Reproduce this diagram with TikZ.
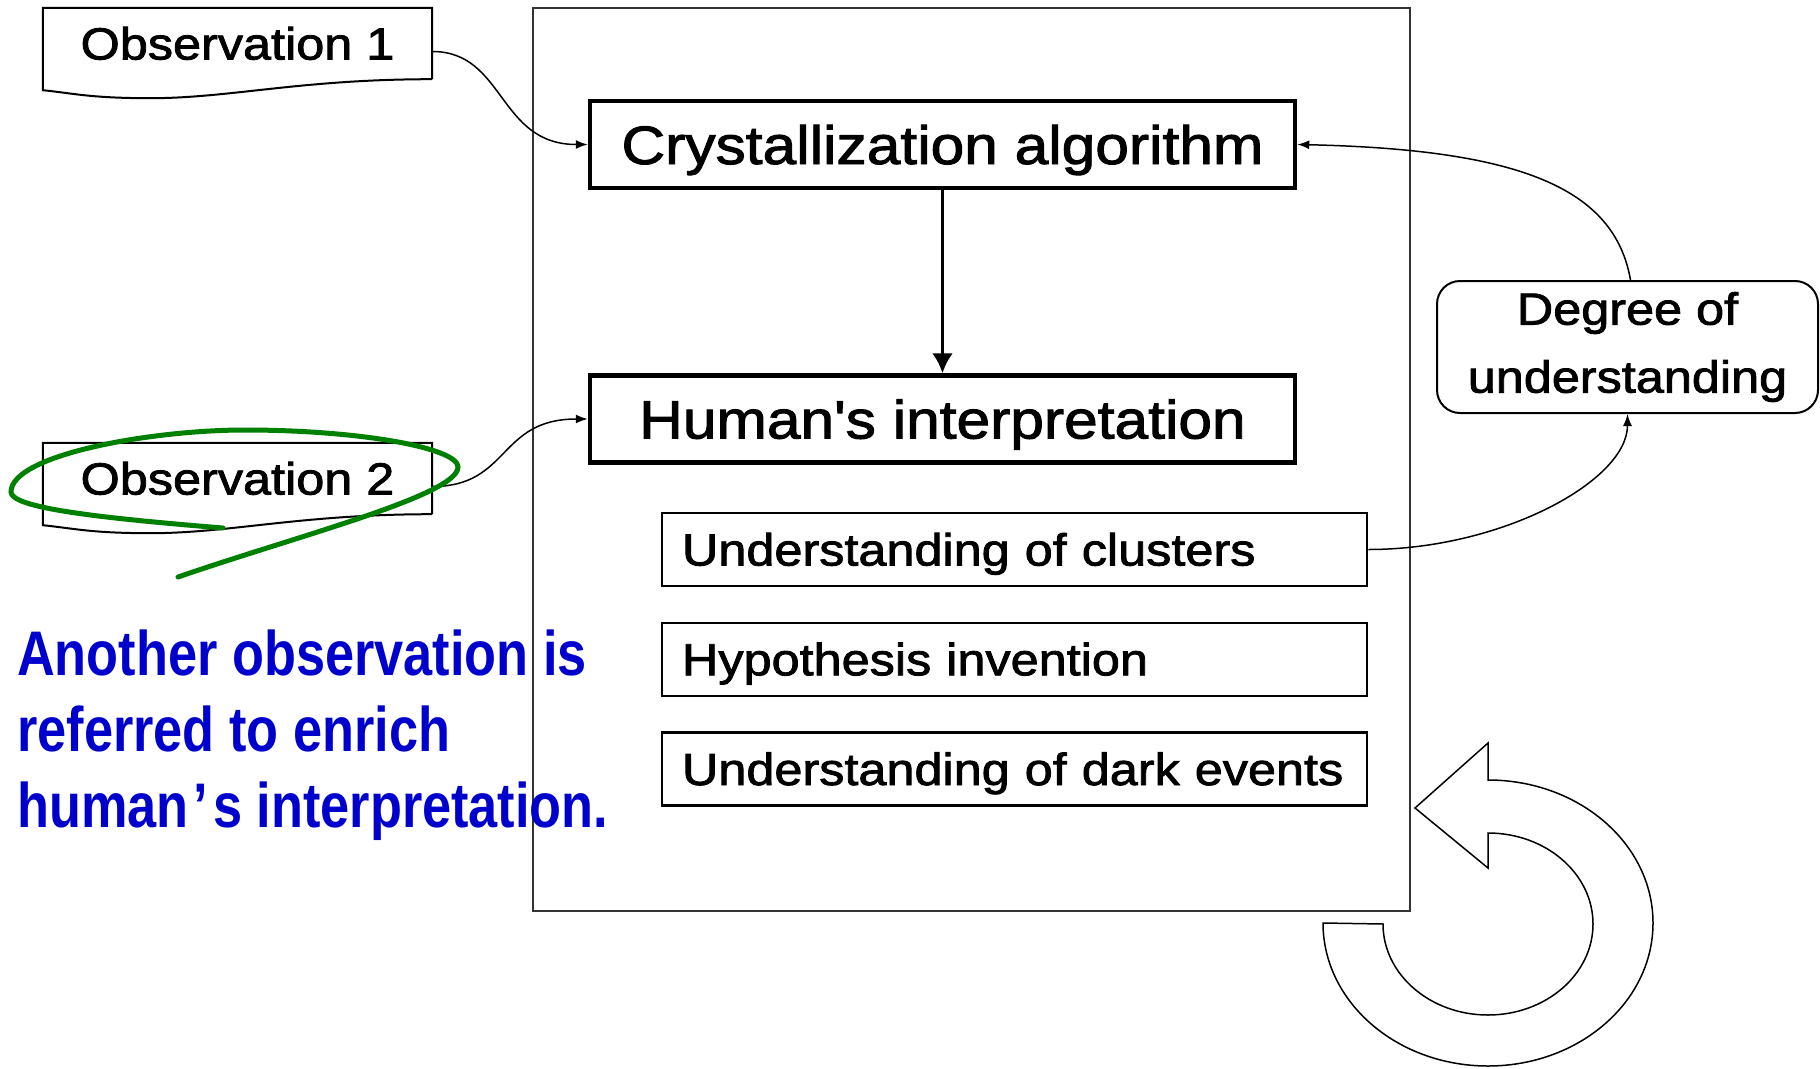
\documentclass[tikz,border=0pt]{standalone}
\usepackage{fontspec}
\setmainfont{Liberation Sans}
\newfontfamily\boxfont[FakeStretch=1.12,FakeBold=1.8]{Liberation Sans}
\newfontfamily\notefont[FakeStretch=0.83]{Liberation Sans}
\usepackage{xcolor}
\usepackage{tikz}
\usetikzlibrary{positioning}
\usetikzlibrary{arrows.meta}
\definecolor{noteblue}{RGB}{0,0,205}
\definecolor{markgreen}{RGB}{0,128,0}

\begin{document}
\begin{tikzpicture}
    [%%%%%%%%%%%%%%%%%%%%%%%%%%%%%%
        x=1pt, y=-1pt,
        bigbox/.style={rectangle,draw=black,line width=4.5pt,minimum width=705pt,minimum height=87pt,inner sep=0pt,
            font=\boxfont\fontsize{54}{60}\selectfont,text height=39pt,text depth=0pt},
        smallbox/.style={rectangle,draw=black,line width=2.5pt,text width=665pt,minimum height=73pt,inner xsep=20pt,inner ysep=0pt,
            align=left,font=\boxfont\fontsize{45}{50}\selectfont,text height=32pt,text depth=0pt},
        obsbox/.style={rectangle,minimum width=389pt,minimum height=71pt,inner sep=0pt,
            font=\boxfont\fontsize{45}{50}\selectfont,text height=32pt,text depth=0pt},
        degbox/.style={rectangle,draw=black,line width=2pt,rounded corners=23pt,minimum width=381pt,minimum height=132pt,
            inner sep=0pt,align=center,font=\boxfont\fontsize{45}{68}\selectfont},
        link/.style={line width=1.5pt,-{Latex[length=12pt,width=9pt]}},
        note/.style={anchor=north west,inner sep=0pt,align=left,text=noteblue,font=\notefont\bfseries\fontsize{63}{76}\selectfont}
    ]%%%%%%%%%%%%%%%%%%%%%%%%%%%%%%

\useasboundingbox (0,0) rectangle (1820,1068);

% frame round the steps
\draw[line width=2.2pt,black!80] (533,8) rectangle (1410,911);

\node[bigbox] (crys) at (942.5,144.5) {Crystallization algorithm};
\node[bigbox] (human) at (942.5,419) {Human's interpretation};

\foreach \name/\txt [count=\i] in {clust/Understanding of clusters,hypo/Hypothesis invention,dark/Understanding of dark events}
{
    \pgfmathsetmacro{\yy}{549.5+109.75*(\i-1)}
    \node[smallbox] (\name) at (1014.5,\yy) {\txt};
}

\node[degbox] (deg) at (1627.5,347) {Degree of\\understanding};

% observations, box with a wavy bottom
\node[obsbox] (obs1) at (237.5,43.5) {Observation 1};
\node[obsbox] (obs2) at (237.5,478.5) {Observation 2};
\foreach \o in {obs1,obs2}{
    \draw[line width=2pt] (\o.south east) -- (\o.north east) -- (\o.north west) -- ([shift={(0,11)}]\o.south west)
        .. controls +(30,3) and +(-60,0) .. ([shift={(-282,19)}]\o.south east)
        .. controls +(80,0) and +(-132,0) .. (\o.south east);
}

\draw[link] ([shift={(0,8)}]obs1.east) .. controls +(73,0) and +(-90,0) .. (crys.west);
\draw[link] ([shift={(0,8)}]obs2.east) .. controls +(78,0) and +(-90,0) .. (human.west);
\draw[line width=3.5pt,-{Latex[length=20pt,width=21pt]}] (crys.south) -- (human.north);
\draw[link] (clust.east) .. controls +(133,0) and +(0,67) .. (deg.south);
\draw[link] ([shift={(3,0)}]deg.north) .. controls +(-16,-91) and +(225,5) .. (crys.east);

% round arrow
\draw[line width=1.5pt] (1323,923) arc[start angle=180,end angle=-90,x radius=165,y radius=143]
    -- (1488,743) -- (1415,808) -- (1488,868) -- (1488,833)
    arc[start angle=-90,end angle=180,x radius=105,y radius=91] -- cycle;

% hand mark
\draw[markgreen,line width=5pt,line cap=round] (223,528) .. controls (100,518) and (11,508) .. (11,492)
    .. controls (11,455) and (150,430) .. (245,430) .. controls (360,430) and (458,448) .. (458,467)
    .. controls (458,495) and (300,535) .. (178,577);

\node[note] (note) at (17,630) {Another observation is\\referred to enrich\\human\kern5pt’\kern5pt s interpretation.};

\end{tikzpicture}
\end{document}
